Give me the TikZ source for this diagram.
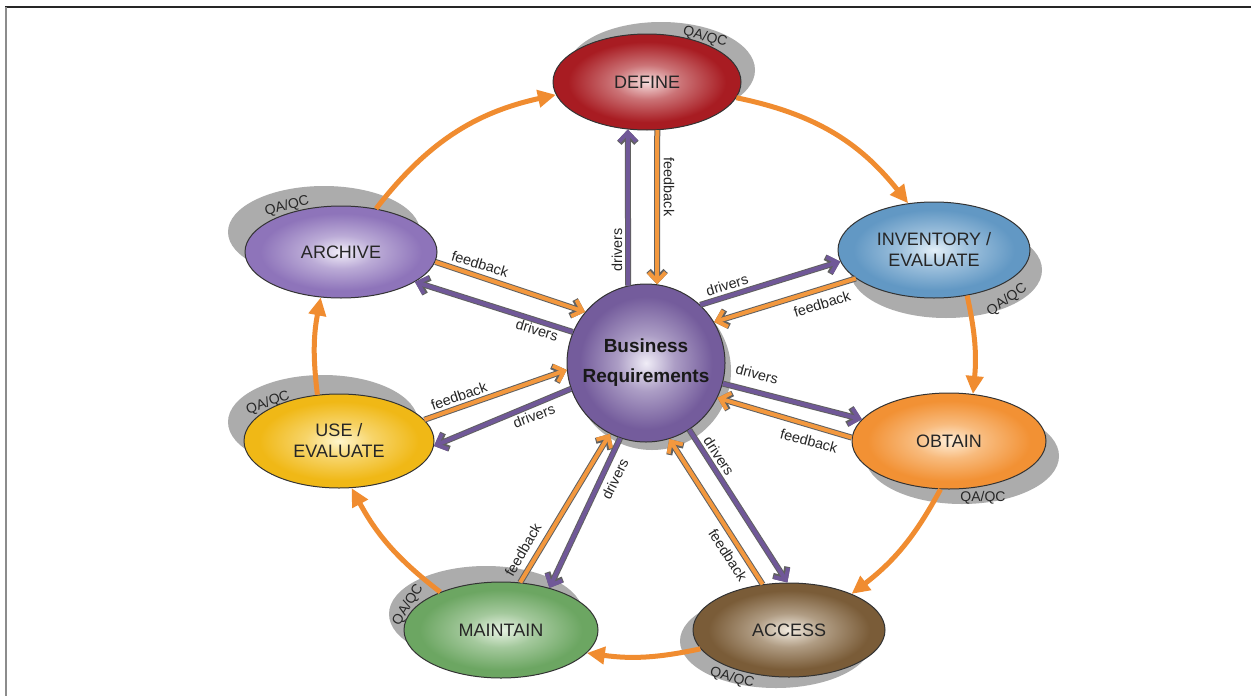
\documentclass[tikz,border=0pt]{standalone}
\usepackage{fontspec}
\setmainfont{Liberation Sans}
\usetikzlibrary{arrows.meta,shapes.geometric}
\definecolor{cyc}{RGB}{240,140,48}
\definecolor{fbk}{RGB}{243,152,62}
\definecolor{drv}{RGB}{112,88,152}
\definecolor{shd}{RGB}{172,172,172}
\definecolor{defin}{RGB}{246,222,222}\definecolor{defout}{RGB}{168,28,34}
\definecolor{invin}{RGB}{228,240,249}\definecolor{invout}{RGB}{98,152,196}
\definecolor{obtin}{RGB}{255,238,215}\definecolor{obtout}{RGB}{242,145,52}
\definecolor{accin}{RGB}{242,235,224}\definecolor{accout}{RGB}{122,92,56}
\definecolor{mntin}{RGB}{232,243,228}\definecolor{mntout}{RGB}{108,166,98}
\definecolor{usein}{RGB}{255,246,205}\definecolor{useout}{RGB}{240,184,22}
\definecolor{arcin}{RGB}{242,238,249}\definecolor{arcout}{RGB}{142,116,186}
\definecolor{brin}{RGB}{240,237,247}\definecolor{brout}{RGB}{116,92,156}
\newcommand\mkshade[1]{%
  \colorlet{#1mid}{#1in!45!#1out}%
  \pgfdeclareradialshading{#1shade}{\pgfpointorigin}{color(0bp)=(#1in); color(9bp)=(#1mid); color(21bp)=(#1out); color(25bp)=(#1out); color(50bp)=(#1out)}}
\mkshade{def}\mkshade{inv}\mkshade{obt}\mkshade{acc}\mkshade{mnt}\mkshade{use}\mkshade{arc}\mkshade{br}
\tikzset{
  stage/.style={ellipse, draw=black!80, line width=0.5pt, inner sep=0pt, align=center,
    font=\fontsize{9}{10.5}\selectfont, text=black!85},
  shadowel/.style={ellipse, fill=shd, inner sep=0pt},
  qa/.style={font=\fontsize{7}{8}\selectfont, inner sep=0pt, text=black!85},
  lbl/.style={font=\fontsize{7.2}{8}\selectfont, inner sep=0pt, text=black!85},
  cycarrow/.style={draw=cyc, line width=2.5pt, -{Triangle[length=9pt,width=8.5pt]}},
  pairout/.style={draw=black!62, line width=3pt, -{Straight Barb[length=4.5pt,width=8.5pt]}},
  pairin/.style={draw=#1, line width=2pt, -{Straight Barb[length=4.5pt,width=8.5pt]}},
}
\newcommand\pairarrow[3]{%
  \draw[pairout] #2 -- #3;
  \draw[pairin=#1] #2 -- #3;}
\begin{document}
\begin{tikzpicture}[x=0.5pt,y=0.5pt]
\useasboundingbox (0,0) rectangle (1251,-696);
\fill[white] (0,0) rectangle (1251,-696);
% frame
\draw[black!85, line width=0.7pt] (5,-7) -- (1251,-7);
\draw[black!45, line width=1pt] (6,-7) -- (6,-696);
% shadows
\node[shadowel, minimum width=94pt, minimum height=48pt] (defsh) at (661,-70) {};
\node[shadowel, minimum width=96pt, minimum height=48pt] (invsh) at (946,-270) {};
\node[shadowel, minimum width=97pt, minimum height=48pt] (obtsh) at (962,-456) {};
\node[shadowel, minimum width=96pt, minimum height=47pt] (accsh) at (776,-641) {};
\node[shadowel, minimum width=97pt, minimum height=48pt] (mntsh) at (486,-614) {};
\node[shadowel, minimum width=95pt, minimum height=47pt] (usesh) at (323,-422) {};
\node[shadowel, minimum width=96pt, minimum height=46pt] (arcsh) at (324,-232) {};
\node[circle, fill=shd, inner sep=0pt, minimum size=79pt] (brsh) at (652,-371) {};
% QA/QC
\node[qa, rotate=-15] (qdef) at (705,-37) {QA/QC};
\node[qa, rotate=35] (qinv) at (1007,-300) {QA/QC};
\node[qa] (qobt) at (983,-498) {QA/QC};
\node[qa, rotate=-15] (qacc) at (732,-678) {QA/QC};
\node[qa, rotate=58] (qmnt) at (408,-605) {QA/QC};
\node[qa, rotate=20] (quse) at (268,-403) {QA/QC};
\node[qa, rotate=14] (qarc) at (287,-206) {QA/QC};
% stages
\node[stage, shading=defshade, minimum width=94pt, minimum height=48pt] (def) at (647,-82) {DEFINE};
\node[stage, shading=invshade, minimum width=96pt, minimum height=48pt] (inv) at (934,-250) {INVENTORY /\\EVALUATE};
\node[stage, shading=obtshade, minimum width=97pt, minimum height=48pt] (obt) at (949,-441) {OBTAIN};
\node[stage, shading=accshade, minimum width=96pt, minimum height=47pt] (acc) at (789,-630) {ACCESS};
\node[stage, shading=mntshade, minimum width=97pt, minimum height=48pt] (mnt) at (501,-630) {MAINTAIN};
\node[stage, shading=useshade, minimum width=95pt, minimum height=47pt] (use) at (339,-441) {USE /\\EVALUATE};
\node[stage, shading=arcshade, minimum width=96pt, minimum height=46pt] (arc) at (341,-252) {ARCHIVE};
\node[circle, draw=black!80, line width=0.5pt, inner sep=0pt, shading=brshade, minimum size=79pt,
  align=center, font=\fontsize{9.5}{15}\selectfont\bfseries, text=black!90] (br) at (646,-363) {Business\\Requirements};
% cycle
\draw[cycarrow] (arc.51) to[bend left=20] (def.188);
\draw[cycarrow] (def.-10) to[bend left=20] (inv.119);
\draw[cycarrow] (inv.-54) to[bend left=9] (obt.63);
\draw[cycarrow] (obt.-100) to[bend left=12] (acc.30);
\draw[cycarrow] (acc.192) to[bend left=10] (mnt.-15);
\draw[cycarrow] (mnt.148) to[bend left=12] (use.-75);
\draw[cycarrow] (use.115) to[bend left=9] (arc.-114);
% drivers / feedback
\pairarrow{drv}{(br.103)}{(def.248)}
\pairarrow{fbk}{(def.-78)}{(br.82)}
\pairarrow{drv}{(br.47)}{(inv.187)}
\pairarrow{fbk}{(inv.200)}{(br.31)}
\pairarrow{drv}{(br.-15)}{(obt.166)}
\pairarrow{fbk}{(obt.178)}{(br.-26)}
\pairarrow{drv}{(br.-57)}{(acc.92)}
\pairarrow{fbk}{(acc.120)}{(br.-73)}
\pairarrow{fbk}{(mnt.68)}{(br.243)}
\pairarrow{drv}{(br.251)}{(mnt.41)}
\pairarrow{fbk}{(use.14)}{(br.185)}
\pairarrow{drv}{(br.199)}{(use.-3.5)}
\pairarrow{fbk}{(arc.-6)}{(br.140)}
\pairarrow{drv}{(br.157)}{(arc.-22.7)}
% labels
\node[lbl, rotate=90] (d1) at (617,-250) {drivers};
\node[lbl, rotate=-90] (f1) at (669,-187) {feedback};
\node[lbl, rotate=17] (d2) at (727,-285) {drivers};
\node[lbl, rotate=17] (f2) at (822,-304) {feedback};
\node[lbl, rotate=-15] (d3) at (757,-374) {drivers};
\node[lbl, rotate=-15] (f3) at (809,-441) {feedback};
\node[lbl, rotate=-57] (d4) at (719,-456) {drivers};
\node[lbl, rotate=-57] (f4) at (728,-555) {feedback};
\node[lbl, rotate=60] (f5) at (523,-550) {feedback};
\node[lbl, rotate=64] (d5) at (615,-479) {drivers};
\node[lbl, rotate=19] (f6) at (459,-396) {feedback};
\node[lbl, rotate=20] (d6) at (534,-416) {drivers};
\node[lbl, rotate=-17] (f7) at (480,-264) {feedback};
\node[lbl, rotate=-17] (d7) at (537,-330) {drivers};
\end{tikzpicture}
\end{document}
